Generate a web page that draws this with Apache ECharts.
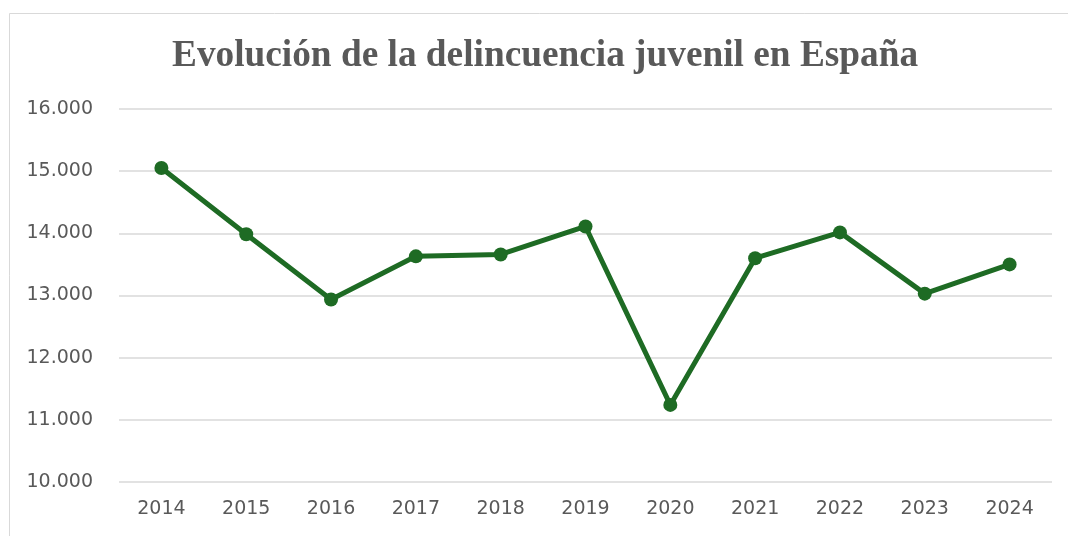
<!DOCTYPE html>
<html>
<head>
<meta charset="utf-8">
<style>
  html, body { margin: 0; padding: 0; background: #fff; }
  #chart { width: 1068px; height: 536px; }
</style>
<script src="https://cdn.jsdelivr.net/npm/echarts@6/dist/echarts.min.js"></script>
</head>
<body>
<div id="chart"></div>
<script>
const years = ['2014', '2015', '2016', '2017', '2018', '2019', '2020', '2021', '2022', '2023', '2024'];
const delitos = [15050, 13985, 12935, 13630, 13660, 14110, 11240, 13600, 14015, 13030, 13500];
const yTicks = [10000, 11000, 12000, 13000, 14000, 15000, 16000];

const myChart = echarts.init(document.getElementById('chart'));

function fmtMiles(v) {
  return String(v).replace(/\B(?=(\d{3})+(?!\d))/g, '.');
}

const labelFont = '"DejaVu Sans", Verdana, sans-serif';

const option = {
  animation: false,
  backgroundColor: '#fff',
  graphic: [{
    type: 'rect',
    shape: { x: 9.5, y: 13.5, width: 1200, height: 700 },
    style: { fill: 'none', stroke: '#d9d9d9', lineWidth: 1 },
    silent: true
  }],
  title: {
    text: 'Evolución de la delincuencia juvenil en España',
    left: 167,
    top: 33,
    textStyle: {
      fontFamily: '"Liberation Serif", "Times New Roman", serif',
      fontWeight: 'bold',
      fontSize: 37.3,
      color: '#595959'
    }
  },
  grid: { left: 119, right: 16, top: 109, bottom: 54 },
  xAxis: {
    type: 'category',
    data: years,
    boundaryGap: true,
    axisLine: { show: false },
    axisTick: { show: false },
    axisLabel: {
      color: '#595959',
      fontSize: 19,
      fontFamily: labelFont,
      margin: 18
    }
  },
  yAxis: {
    type: 'value',
    min: yTicks[0],
    max: yTicks[yTicks.length - 1],
    interval: 1000,
    axisLine: { show: false },
    axisTick: { show: false },
    splitLine: { lineStyle: { color: '#d9d9d9', width: 1.5 } },
    axisLabel: {
      color: '#595959',
      fontSize: 19,
      fontFamily: labelFont,
      margin: 26,
      formatter: fmtMiles
    }
  },
  series: [{
    type: 'line',
    data: delitos,
    symbol: 'circle',
    symbolSize: 14,
    lineStyle: { color: '#1e6b24', width: 5 },
    itemStyle: { color: '#1e6b24' }
  }]
};

myChart.setOption(option);
</script>
</body>
</html>
